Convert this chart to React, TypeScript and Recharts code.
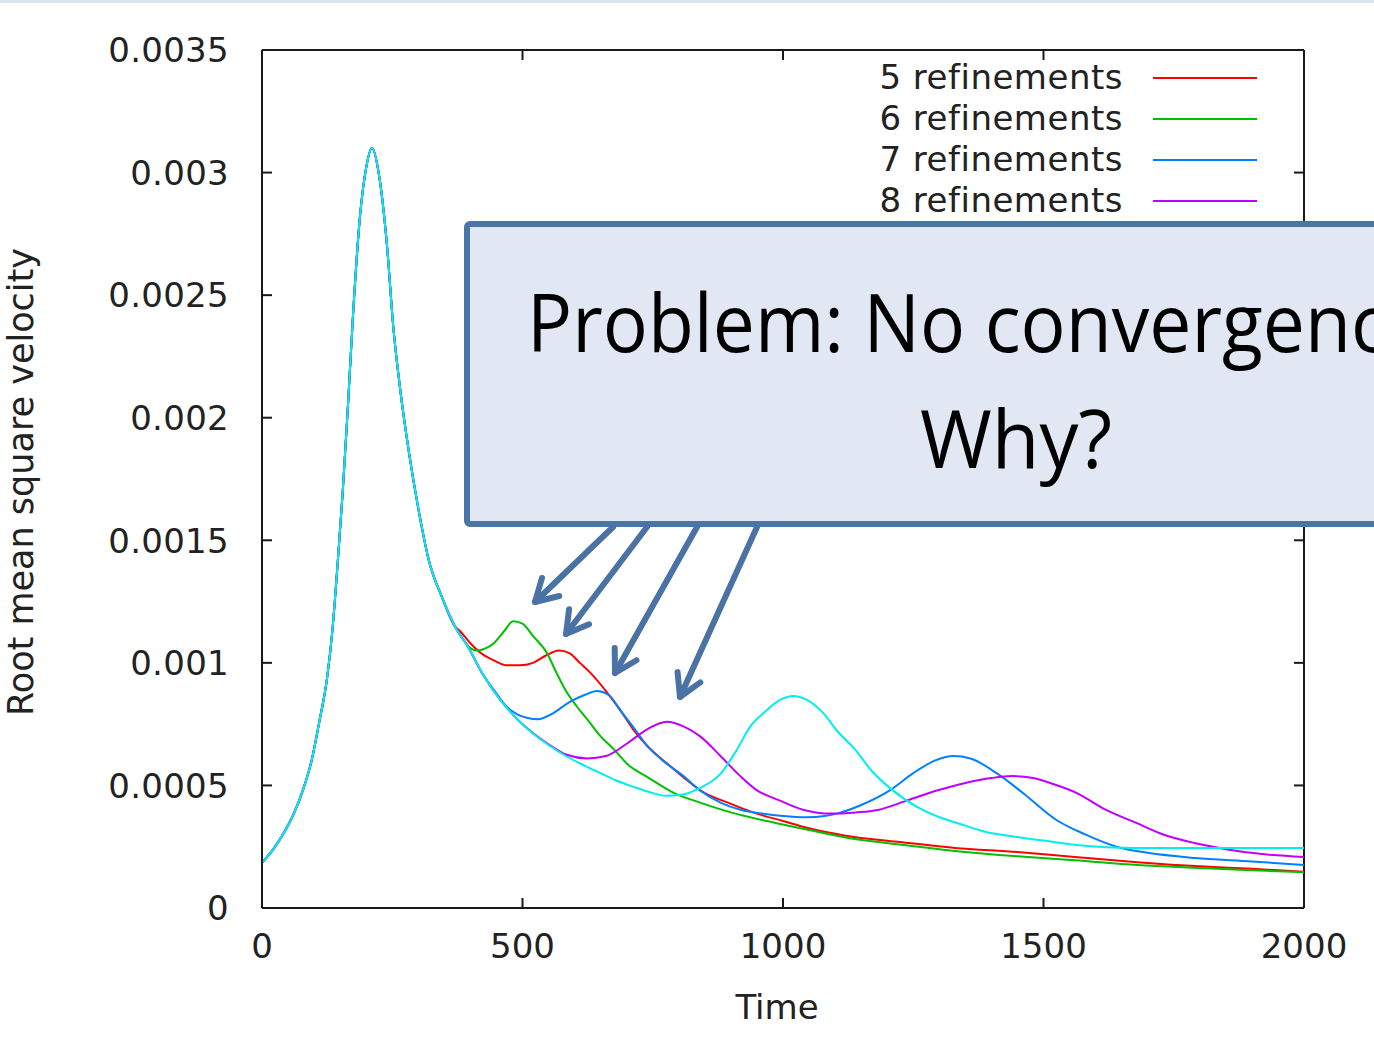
import React from 'react';
import { LineChart, Line, XAxis, YAxis, Legend, ReferenceLine, Label } from 'recharts';

// ---------- data ----------
const baseTime = [0, 20, 40, 60, 80, 95, 110, 125, 135, 145, 155, 165, 175, 188, 200, 211, 226, 240, 252, 265, 282, 300, 320, 345, 370];
const baseRms = [0.000185, 0.000235, 0.0003, 0.00038, 0.00049, 0.0006, 0.00076, 0.00094, 0.00113, 0.0014, 0.0017, 0.00205, 0.00243, 0.00282, 0.00302, 0.0031, 0.00297, 0.0027, 0.00237, 0.00212, 0.00186, 0.00163, 0.00142, 0.00127, 0.00115];

const ref5Time = [380, 400, 420, 445, 470, 495, 520, 545, 570, 590, 610, 630, 662, 690, 712, 740, 777, 808, 841, 900, 950, 1000, 1050, 1120, 1220, 1330, 1450, 1560, 1680, 1800, 1900, 2000];
const ref5Rms = [0.00113, 0.00108, 0.00104, 0.00101, 0.00099, 0.00099, 0.001, 0.00103, 0.00105, 0.00104, 0.001, 0.00096, 0.00088, 0.0008, 0.00073, 0.00066, 0.00059, 0.000535, 0.00048, 0.000425, 0.000385, 0.000355, 0.000325, 0.000295, 0.00027, 0.000245, 0.000228, 0.000208, 0.000187, 0.00017, 0.00016, 0.000148];

const ref6Time = [385, 400, 413, 430, 445, 465, 482, 500, 520, 547, 565, 585, 605, 624, 650, 674, 705, 739, 790, 841, 900, 990, 1050, 1120, 1220, 1330, 1450, 1560, 1680, 1800, 1900, 2000];
const ref6Rms = [0.0011, 0.00106, 0.00105, 0.00106, 0.00108, 0.00113, 0.00117, 0.00116, 0.00111, 0.00104, 0.00096, 0.00088, 0.00082, 0.00077, 0.0007, 0.00065, 0.00058, 0.000535, 0.00047, 0.00043, 0.00039, 0.000345, 0.000318, 0.000288, 0.00026, 0.000233, 0.000211, 0.000195, 0.000175, 0.000163, 0.000154, 0.000146];

const ref7Time = [397, 422, 445, 470, 490, 510, 530, 555, 590, 620, 643, 665, 690, 712, 740, 770, 808, 841, 880, 920, 954, 1000, 1046, 1080, 1107, 1150, 1205, 1250, 1290, 1327, 1360, 1410, 1460, 1524, 1580, 1640, 1700, 1790, 1900, 2000];
const ref7Rms = [0.00106, 0.00096, 0.00089, 0.00082, 0.00079, 0.000775, 0.00077, 0.00079, 0.00084, 0.00087, 0.000885, 0.00087, 0.0008, 0.00074, 0.00066, 0.0006, 0.00054, 0.00048, 0.00043, 0.0004, 0.000387, 0.000375, 0.00037, 0.000375, 0.000387, 0.00042, 0.00048, 0.00055, 0.0006, 0.00062, 0.00061, 0.00055, 0.00047, 0.00036, 0.0003, 0.00025, 0.000225, 0.000204, 0.00019, 0.000175];

const ref8Time = [397, 422, 457, 490, 520, 550, 585, 624, 660, 700, 740, 777, 810, 841, 880, 917, 950, 992, 1040, 1092, 1140, 1182, 1240, 1297, 1350, 1400, 1440, 1480, 1520, 1563, 1620, 1678, 1730, 1790, 1850, 1920, 2000];
const ref8Rms = [0.00106, 0.00096, 0.00085, 0.00077, 0.000714, 0.000668, 0.000625, 0.00061, 0.00062, 0.00067, 0.00073, 0.00076, 0.00074, 0.0007, 0.00062, 0.00054, 0.00048, 0.00044, 0.0004, 0.000385, 0.00039, 0.0004, 0.00044, 0.00048, 0.00051, 0.00053, 0.000538, 0.00053, 0.000505, 0.00047, 0.0004, 0.000347, 0.0003, 0.000265, 0.00024, 0.00022, 0.000208];

const ref9Time = [397, 422, 457, 490, 520, 550, 585, 620, 650, 680, 712, 745, 775, 805, 841, 879, 910, 937, 965, 995, 1020, 1045, 1075, 1105, 1139, 1170, 1205, 1259, 1300, 1334, 1390, 1449, 1500, 1563, 1620, 1678, 1800, 2000];
const ref9Rms = [0.00106, 0.00096, 0.00085, 0.00077, 0.000712, 0.000665, 0.000618, 0.00058, 0.00055, 0.00052, 0.000495, 0.000472, 0.000458, 0.000462, 0.00049, 0.000545, 0.00064, 0.00074, 0.0008, 0.00085, 0.000865, 0.00085, 0.0008, 0.00072, 0.000645, 0.00056, 0.00049, 0.00041, 0.00037, 0.000347, 0.00031, 0.00029, 0.000275, 0.000257, 0.000248, 0.000245, 0.000245, 0.000245];

const seriesNames = ['5 refinements', '6 refinements', '7 refinements', '8 refinements', '9 refinements'];
const seriesColors = ['#ff0000', '#00c000', '#0080ff', '#c000ff', '#00eeee'];

const xTicks = [0, 500, 1000, 1500, 2000];
const yTicks = [0, 0.0005, 0.001, 0.0015, 0.002, 0.0025, 0.003, 0.0035];
const yTickLabels = ['0', '0.0005', '0.001', '0.0015', '0.002', '0.0025', '0.003', '0.0035'];

const boxLines = ['Problem: No convergence', 'Why?'];

// ---------- layout ----------
const W = 1374;
const H = 1037;
const PLOT_TOP = 50;
const PLOT_RIGHT = 1304;
const TICK = 10;
const FONT = '"DejaVu Sans", sans-serif';
const TEXT = '#222';
const FRAME = '#1a1a1a';

const build = (t: number[], v: number[]) => [
  ...baseTime.map((x, i) => ({ t: x, v: baseRms[i] })),
  ...t.map((x, i) => ({ t: x, v: v[i] })),
];

const seriesData = [
  build(ref5Time, ref5Rms),
  build(ref6Time, ref6Rms),
  build(ref7Time, ref7Rms),
  build(ref8Time, ref8Rms),
  build(ref9Time, ref9Rms),
];

const XTick = (props: any) => {
  const { x, y, payload } = props;
  return (
    <g>
      <line x1={x} x2={x} y1={y} y2={y - TICK} stroke={FRAME} strokeWidth={2} />
      <line x1={x} x2={x} y1={PLOT_TOP} y2={PLOT_TOP + TICK} stroke={FRAME} strokeWidth={2} />
      <text x={x} y={y + 50} textAnchor="middle" fontFamily={FONT} fontSize={34} fill={TEXT}>
        {payload.value}
      </text>
    </g>
  );
};

const YTick = (props: any) => {
  const { x, y, payload } = props;
  const idx = yTicks.indexOf(payload.value);
  const label = idx >= 0 ? yTickLabels[idx] : String(payload.value);
  return (
    <g>
      <line x1={x} x2={x + TICK} y1={y} y2={y} stroke={FRAME} strokeWidth={2} />
      <line x1={PLOT_RIGHT - TICK} x2={PLOT_RIGHT} y1={y} y2={y} stroke={FRAME} strokeWidth={2} />
      <text x={x - 33} y={y} dy="0.36em" textAnchor="end" fontFamily={FONT} fontSize={34} fill={TEXT} letterSpacing={0.3}>
        {label}
      </text>
    </g>
  );
};

const renderLegend = (props: any) => {
  const payload = (props.payload || []).filter((p: any) => p.type !== 'none');
  return (
    <div style={{ position: 'relative', width: 420, height: payload.length * 41 }}>
      {payload.map((p: any, i: number) => (
        <div
          key={i}
          style={{ position: 'absolute', left: 0, top: i * 41, width: 420, height: 41, display: 'flex', alignItems: 'center' }}
        >
          <span
            style={{
              width: 263,
              textAlign: 'right',
              fontFamily: FONT,
              fontSize: 34,
              color: TEXT,
              lineHeight: '41px',
              whiteSpace: 'nowrap',
              letterSpacing: '0.5px',
            }}
          >
            {p.value}
          </span>
          <span style={{ marginLeft: 30, width: 104, height: 2, background: p.color, display: 'block' }} />
        </div>
      ))}
    </div>
  );
};

const arrows = [
  { sx: 613, sy: 527, tx: 535, ty: 602 },
  { sx: 647, sy: 527, tx: 566, ty: 634 },
  { sx: 697, sy: 527, tx: 615, ty: 673 },
  { sx: 757, sy: 527, tx: 680, ty: 697 },
];

const Arrow = ({ sx, sy, tx, ty }: any) => {
  const dx = sx - tx;
  const dy = sy - ty;
  const len = Math.hypot(dx, dy);
  const ux = dx / len;
  const uy = dy / len;
  const a = (30 * Math.PI) / 180;
  const L = 25;
  const r = (ang: number) => ({
    x: tx + L * (ux * Math.cos(ang) - uy * Math.sin(ang)),
    y: ty + L * (ux * Math.sin(ang) + uy * Math.cos(ang)),
  });
  const p1 = r(a);
  const p2 = r(-a);
  return (
    <g stroke="#4a72a4" strokeWidth={6} strokeLinecap="round" strokeLinejoin="round" fill="none">
      <line x1={sx} y1={sy} x2={tx} y2={ty} />
      <polyline points={`${p1.x},${p1.y} ${tx},${ty} ${p2.x},${p2.y}`} />
    </g>
  );
};

export default function App() {
  return (
    <div style={{ position: 'absolute', left: 0, top: 0, width: W, height: H, overflow: 'hidden', background: '#fff' }}>
      <div style={{ position: 'absolute', left: 0, top: 0, width: W, height: 3, background: '#dde4f0' }} />
      <LineChart width={W} height={H} margin={{ top: 50, right: 70, bottom: 0, left: 0 }}>
        <XAxis
          type="number"
          dataKey="t"
          domain={[0, 2000]}
          ticks={xTicks}
          allowDataOverflow
          height={129}
          tickSize={0}
          tickMargin={0}
          tickLine={false}
          axisLine={{ stroke: FRAME, strokeWidth: 2 }}
          tick={<XTick />}
          interval={0}
        >
          <Label
            value="Time"
            content={(p: any) => {
              const vb = p.viewBox;
              return (
                <text x={vb.x + vb.width / 2 - 6} y={vb.y + 111} textAnchor="middle" fontFamily={FONT} fontSize={34} fill={TEXT}>
                  {p.value}
                </text>
              );
            }}
          />
        </XAxis>
        <YAxis
          type="number"
          dataKey="v"
          domain={[0, 0.0035]}
          ticks={yTicks}
          allowDataOverflow
          width={262}
          tickSize={0}
          tickMargin={0}
          tickLine={false}
          axisLine={{ stroke: FRAME, strokeWidth: 2 }}
          tick={<YTick />}
          interval={0}
        >
          <Label
            value="Root mean square velocity"
            content={(p: any) => {
              const vb = p.viewBox;
              const cx = vb.x + 33;
              const cy = vb.y + vb.height / 2 + 3;
              return (
                <text
                  x={cx}
                  y={cy}
                  transform={`rotate(-90 ${cx} ${cy})`}
                  textAnchor="middle"
                  fontFamily={FONT}
                  fontSize={35}
                  fill={TEXT}
                >
                  {p.value}
                </text>
              );
            }}
          />
        </YAxis>
        <ReferenceLine y={0.0035} stroke={FRAME} strokeWidth={2} />
        <ReferenceLine x={2000} stroke={FRAME} strokeWidth={2} />
        <Legend
          layout="horizontal"
          verticalAlign="middle"
          align="center"
          wrapperStyle={{ left: 860, top: 57, width: 420, height: 170 }}
          content={renderLegend}
        />
        {seriesData.map((d, i) => (
          <Line
            key={seriesNames[i]}
            data={d}
            dataKey="v"
            name={seriesNames[i]}
            type="monotone"
            stroke={seriesColors[i]}
            strokeWidth={2}
            dot={false}
            activeDot={false}
            isAnimationActive={false}
            legendType={i === 4 ? 'none' : 'line'}
          />
        ))}
      </LineChart>
      <svg width={W} height={H} style={{ position: 'absolute', left: 0, top: 0, pointerEvents: 'none' }}>
        <rect x={467} y={224} width={1200} height={300} rx={3} fill="#e1e8f3" stroke="#4a75a7" strokeWidth={6} />
        <text
          x={527}
          y={352}
          textAnchor="start"
          fontFamily='"Open Sans", sans-serif'
          fontSize={80}
          fill="#000"
          textLength={902}
          lengthAdjust="spacingAndGlyphs"
        >
          {boxLines[0]}
        </text>
        <text
          x={1016}
          y={468}
          textAnchor="middle"
          fontFamily='"Open Sans", sans-serif'
          fontSize={80}
          fill="#000"
          textLength={192}
          lengthAdjust="spacingAndGlyphs"
        >
          {boxLines[1]}
        </text>
        {arrows.map((a, i) => (
          <Arrow key={i} {...a} />
        ))}
      </svg>
    </div>
  );
}
